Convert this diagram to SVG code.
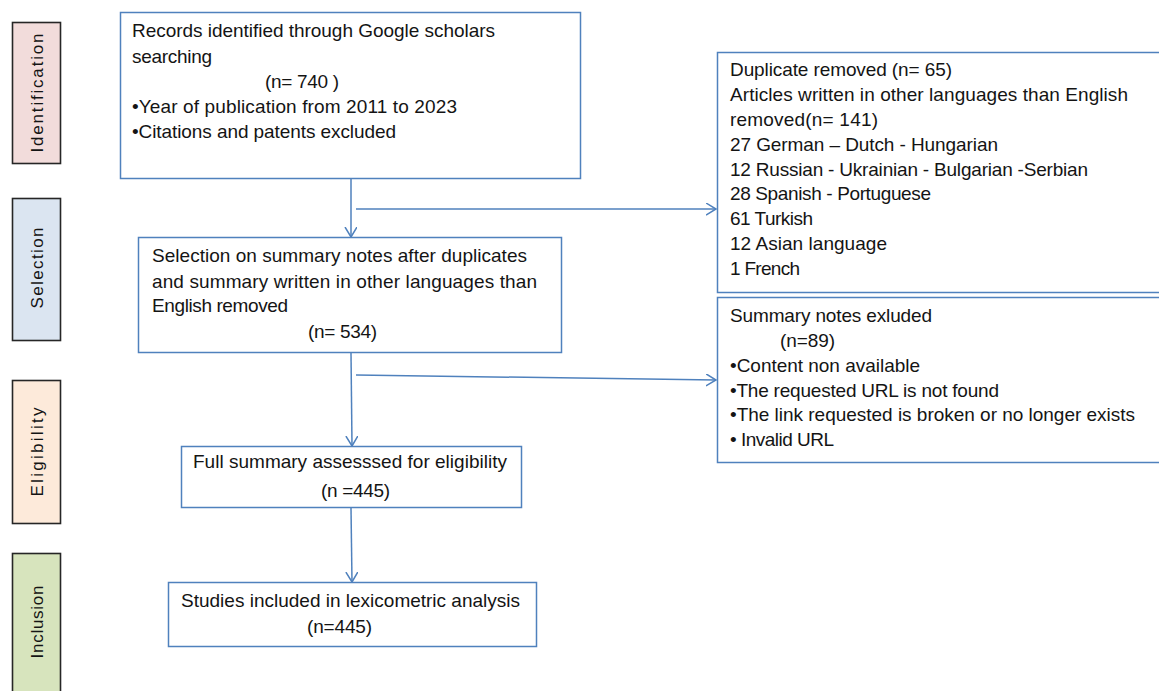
<svg xmlns="http://www.w3.org/2000/svg" width="1159" height="691" viewBox="0 0 1159 691">
<style>
.bg{fill:#ffffff}
.box{fill:#ffffff;stroke:#4f81bd;stroke-width:1.5}
.side{stroke:#262626;stroke-width:1.6}
.t{font-family:"Liberation Sans",Arial,sans-serif;font-size:19px;fill:#141414}
.s{font-family:"Liberation Sans",Arial,sans-serif;font-size:17px;fill:#141414;text-anchor:middle}
.c{stroke:#4f81bd;stroke-width:1.5;fill:none}
</style>
<defs>
<marker id="ah" markerUnits="userSpaceOnUse" markerWidth="14" markerHeight="14" refX="10" refY="6" orient="auto">
<path d="M0,0 L10,6 L0,12" fill="none" stroke="#4f81bd" stroke-width="1.5"/>
</marker>
</defs>
<rect class="bg" x="0" y="0" width="1159" height="691"/>

<g id="stage-identification">
<rect class="side" x="12.5" y="22.5" width="48" height="141" fill="#f2dcdb"/>
<text class="s" transform="translate(43,93) rotate(-90)" textLength="119">Identification</text>
</g>
<g id="stage-selection">
<rect class="side" x="12.5" y="198.5" width="48" height="142" fill="#dbe5f1"/>
<text class="s" transform="translate(43,268) rotate(-90)" textLength="81">Selection</text>
</g>
<g id="stage-eligibility">
<rect class="side" x="12.5" y="380.5" width="48" height="143" fill="#fdeada"/>
<text class="s" transform="translate(43,452) rotate(-90)" textLength="89">Eligibility</text>
</g>
<g id="stage-inclusion">
<rect class="side" x="12.5" y="553.5" width="48" height="150" fill="#d7e4bd"/>
<text class="s" transform="translate(43,622) rotate(-90)" textLength="73">Inclusion</text>
</g>

<g id="connectors">
<line class="c" x1="351" y1="178" x2="351" y2="237" marker-end="url(#ah)"/>
<line class="c" x1="356" y1="209" x2="716" y2="209" marker-end="url(#ah)"/>
<line class="c" x1="351" y1="353" x2="352" y2="446" marker-end="url(#ah)"/>
<line class="c" x1="356" y1="375" x2="716" y2="380" marker-end="url(#ah)"/>
<line class="c" x1="351" y1="508" x2="352" y2="582" marker-end="url(#ah)"/>
</g>

<g id="records">
<rect class="box" x="120.5" y="12.5" width="460" height="166"/>
<text class="t" x="132" y="37" textLength="363">Records identified through Google scholars</text>
<text class="t" x="132" y="63" textLength="80">searching</text>
<text class="t" x="265" y="88" textLength="74">(n= 740 )</text>
<text class="t" x="132" y="113" textLength="325">•Year of publication from 2011 to 2023</text>
<text class="t" x="132" y="138" textLength="264">•Citations and patents excluded</text>
</g>

<g id="selection">
<rect class="box" x="138.5" y="237.5" width="423" height="115"/>
<text class="t" x="152" y="262" textLength="375">Selection on summary notes after duplicates</text>
<text class="t" x="152" y="288" textLength="385">and summary written in other languages than</text>
<text class="t" x="152" y="312" textLength="136">English removed</text>
<text class="t" x="308" y="338" textLength="69">(n= 534)</text>
</g>

<g id="eligibility">
<rect class="box" x="181.5" y="446.5" width="340" height="61"/>
<text class="t" x="193" y="468" textLength="314">Full summary assesssed for eligibility</text>
<text class="t" x="321" y="497" textLength="69">(n =445)</text>
</g>

<g id="included">
<rect class="box" x="168.5" y="582.5" width="368" height="64"/>
<text class="t" x="181" y="607" textLength="339">Studies included in lexicometric analysis</text>
<text class="t" x="307" y="633" textLength="65">(n=445)</text>
</g>

<g id="duplicates-removed">
<rect class="box" x="717.5" y="52.5" width="460" height="240"/>
<text class="t" x="730" y="76" textLength="222">Duplicate removed (n= 65)</text>
<text class="t" x="730" y="101" textLength="398">Articles written in other languages than English</text>
<text class="t" x="730" y="126" textLength="148">removed(n= 141)</text>
<text class="t" x="730" y="151" textLength="268">27 German – Dutch - Hungarian</text>
<text class="t" x="730" y="176" textLength="358">12 Russian - Ukrainian - Bulgarian -Serbian</text>
<text class="t" x="730" y="200" textLength="201">28 Spanish - Portuguese</text>
<text class="t" x="730" y="225" textLength="83">61 Turkish</text>
<text class="t" x="730" y="250" textLength="157">12 Asian language</text>
<text class="t" x="730" y="275" textLength="70">1 French</text>
</g>

<g id="summary-excluded">
<rect class="box" x="717.5" y="297.5" width="460" height="165"/>
<text class="t" x="730" y="322" textLength="202">Summary notes exluded</text>
<text class="t" x="780" y="347" textLength="55">(n=89)</text>
<text class="t" x="730" y="372" textLength="190">•Content non available</text>
<text class="t" x="730" y="397" textLength="269">•The requested URL is not found</text>
<text class="t" x="730" y="421" textLength="405">•The link requested is broken or no longer exists</text>
<text class="t" x="730" y="446" textLength="104">• Invalid URL</text>
</g>
</svg>
